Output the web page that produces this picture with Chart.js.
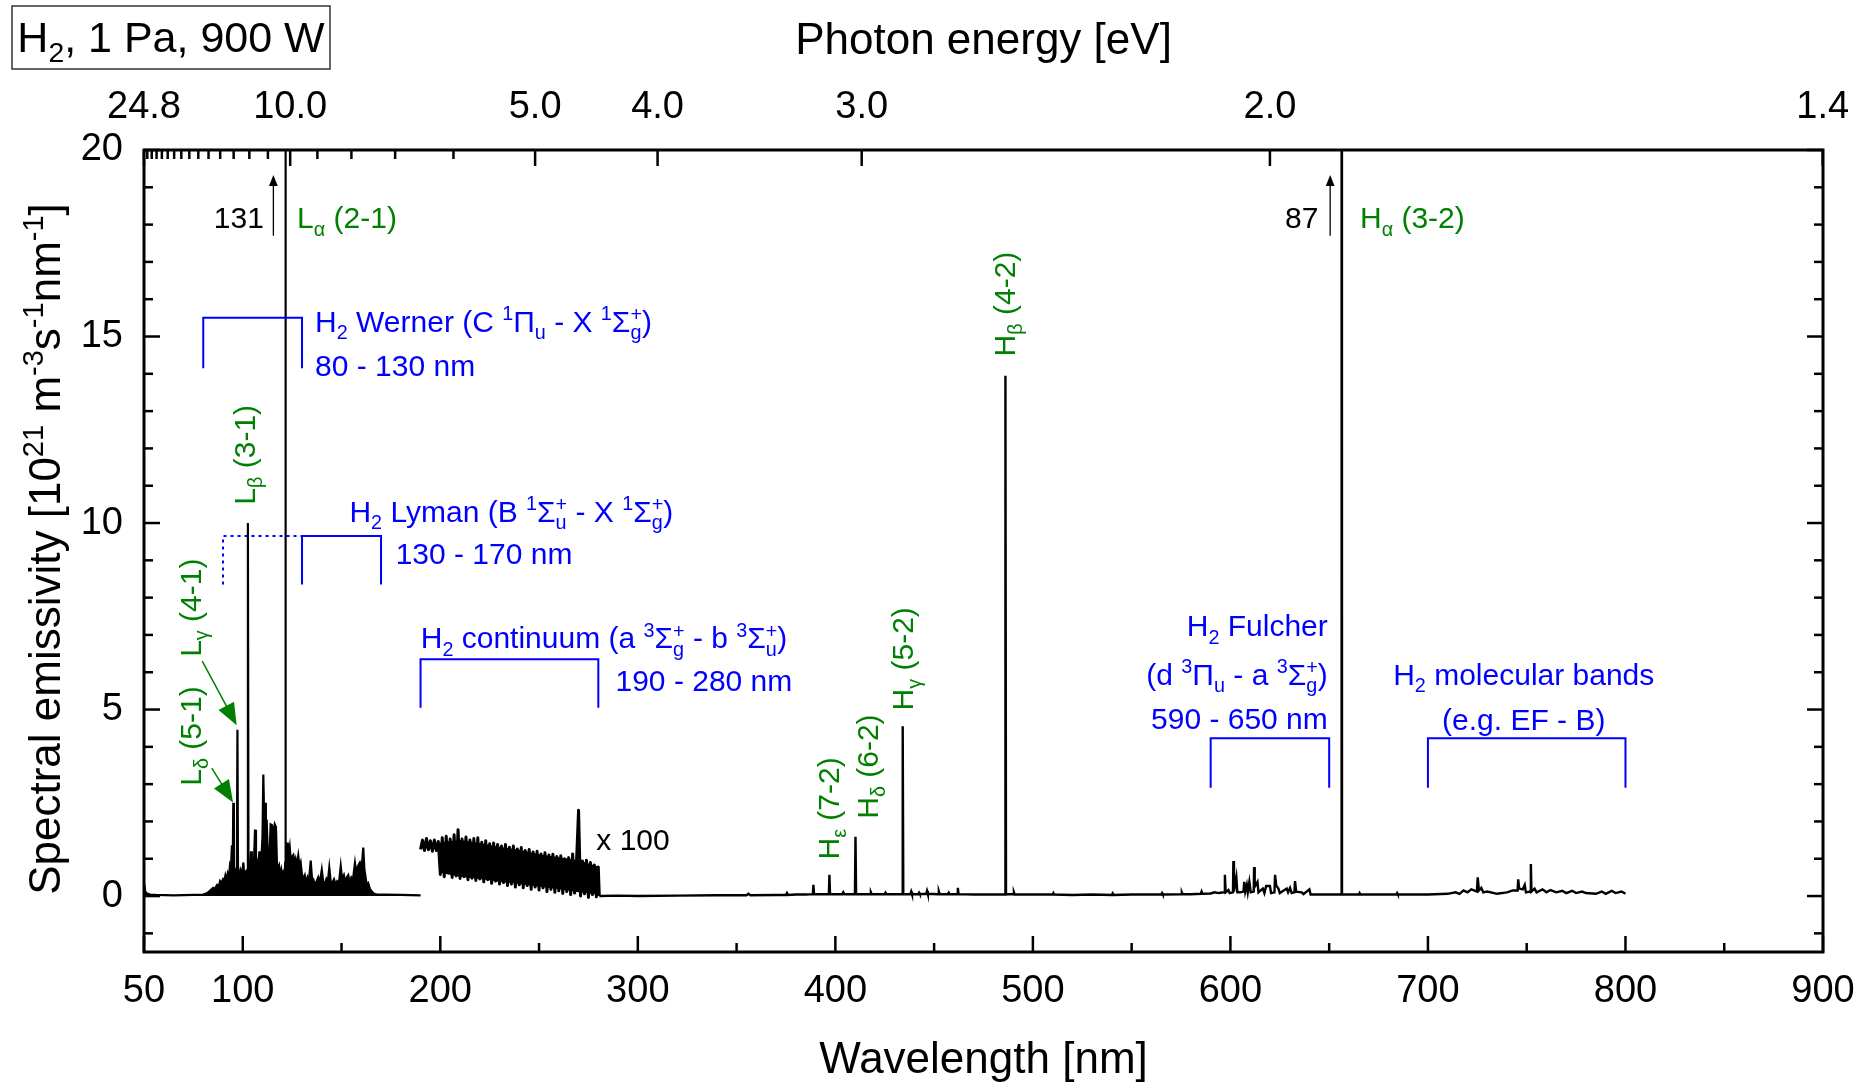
<!DOCTYPE html>
<html>
<head>
<meta charset="utf-8">
<script src="https://cdn.jsdelivr.net/npm/chart.js@4.4.0/dist/chart.umd.min.js"></script>
<style>
  html, body { margin: 0; background: #fff; }
  #wrap { width: 1862px; height: 1088px; }
</style>
</head>
<body>
<div id="wrap"><canvas id="spec" width="1862" height="1088"></canvas></div>
<script>
// ---- data (wavelength in nm, emissivity in 1e21 m^-3 s^-1 nm^-1) ----
var wlTicks = [50, 100, 200, 300, 400, 500, 600, 700, 800, 900];
var wlMinor = [150, 250, 350, 450, 550, 650, 750, 850];
var yTicks = [0, 5, 10, 15, 20];
var yMinor = [-1, 1, 2, 3, 4, 6, 7, 8, 9, 11, 12, 13, 14, 16, 17, 18, 19];
var evTicks = [24.8, 10, 5, 4, 3, 2, 1.378];
var evMinor = [24, 23, 22, 21, 20, 19, 18, 17, 16, 15, 14, 13, 12, 11, 9, 8, 7, 6];

// VUV part 50 - 190 nm
var vuvSpec = [
  [50, 0], [50.2, 0.3], [50.6, 0.12], [51.5, 0.07], [53, 0.04], [56, 0.03], [65, 0.02], [75, 0.03],
  [80, 0.04], [82, 0.08], [83.5, 0.15], [85, 0.22], [86, 0.2], [87, 0.3], [88, 0.28], [88.5, 0.4],
  [89.2, 0.35], [90, 0.45], [90.6, 0.4], [91.2, 0.55], [91.8, 0.42], [92.4, 0.6], [93, 0.5], [93.5, 0.8],
  [94, 0.7], [94.5, 1.36], [94.9, 0.7], [95.2, 2.5], [95.5, 0.65], [96, 0.7], [96.5, 0.6], [97, 0.7],
  [97.3, 4.46], [97.6, 0.65], [98.2, 0.55], [98.8, 0.7], [99.4, 0.6], [100, 0.75], [100.3, 0.9],
  [100.7, 0.6], [101.3, 0.65], [101.9, 0.6], [102.3, 0.7], [102.6, 10], [102.9, 0.7], [103.4, 0.8],
  [103.8, 0.65], [104.2, 1.2], [104.6, 0.7], [105.1, 0.9], [105.6, 0.8], [106.2, 1.78], [106.7, 0.75],
  [107.2, 0.9], [107.8, 0.7], [108.4, 1.2], [108.9, 0.8], [109.5, 1.1], [110, 1.6], [110.4, 3.26],
  [110.8, 2.2], [111.3, 2.5], [111.7, 1.9], [112.1, 2.05], [112.5, 1.4], [113, 0.8], [113.5, 1.0],
  [114.1, 1.92], [114.8, 1.9], [115.5, 1.6], [116.2, 1.92], [116.8, 1.85], [117.3, 0.9], [117.8, 0.7],
  [118.4, 0.8], [118.9, 0.55], [119.5, 0.7], [120, 0.5], [120.6, 0.65], [121.2, 0.6], [121.5, 0.9],
  [121.6, 131], [121.8, 0.9], [122.3, 1.2], [122.8, 1.43], [123.3, 1.1], [123.8, 1.3], [124.3, 0.95],
  [124.9, 1.05], [125.6, 1.1], [126.1, 0.9], [126.7, 1.0], [127.3, 0.8], [128.1, 1.08], [128.7, 0.8],
  [129.3, 0.9], [129.9, 0.6], [130.7, 0.45], [131.4, 0.55], [132, 0.35], [132.8, 0.5], [133.5, 0.4],
  [134.4, 0.95], [135, 0.5], [135.7, 0.45], [136.5, 0.3], [137.4, 0.4], [138.2, 0.5], [139, 0.35],
  [140, 0.7], [140.7, 0.4], [141.5, 0.3], [142.3, 0.45], [143, 0.35], [143.8, 0.76], [144.5, 0.4],
  [145.3, 0.35], [146.2, 0.45], [147, 0.3], [147.8, 0.4], [148.7, 0.35], [149.6, 0.8], [150.3, 0.45],
  [151.2, 0.56], [152, 0.35], [152.7, 0.5], [153.4, 0.56], [154.2, 0.35], [155, 0.5], [155.8, 0.45],
  [156.8, 0.88], [157.5, 0.6], [158.3, 0.8], [159.3, 0.9], [160.2, 0.75], [161, 1.3], [161.6, 0.7],
  [162.2, 0.5], [162.7, 0.3], [163.5, 0.35], [164.3, 0.2], [165.3, 0.12], [166.5, 0.06], [168, 0.04],
  [172, 0.04], [180, 0.03], [190, 0.02]
];

// H2 continuum x 100, 190 - 280 nm (noisy trace, 1 nm steps)
var contX = [190, 191, 192, 193, 194, 195, 196, 197, 198, 199, 200, 201, 202, 203, 204, 205, 206, 207, 208,
  209, 210, 211, 212, 213, 214, 215, 216, 217, 218, 219, 220, 221, 222, 223, 224, 225, 226, 227, 228, 229,
  230, 231, 232, 233, 234, 235, 236, 237, 238, 239, 240, 241, 242, 243, 244, 245, 246, 247, 248, 249, 250,
  251, 252, 253, 254, 255, 256, 257, 258, 259, 260, 261, 262, 263, 264, 265, 266, 267, 268, 269, 270, 271,
  272, 273, 274, 275, 276, 277, 278, 279, 280, 280.5];
var contY = [1.25, 1.5, 1.22, 1.54, 1.24, 1.48, 1.2, 1.5, 1.22, 1.46, 0.58, 1.56, 0.52, 1.6, 0.62, 1.53, 0.5,
  1.64, 0.54, 1.78, 0.47, 1.53, 0.52, 1.58, 0.44, 1.5, 0.48, 1.54, 0.42, 1.56, 0.46, 1.44, 0.38, 1.48, 0.44,
  1.4, 0.34, 1.42, 0.4, 1.38, 0.32, 1.34, 0.36, 1.38, 0.28, 1.31, 0.32, 1.34, 0.24, 1.26, 0.3, 1.3, 0.22,
  1.22, 0.28, 1.25, 0.18, 1.18, 0.24, 1.2, 0.16, 1.13, 0.22, 1.16, 0.12, 1.1, 0.18, 1.12, 0.1, 1.06, 0.14,
  1.08, 0.07, 1.0, 0.12, 1.03, 0.04, 1.13, 0.08, 0.98, 2.3, 0.0, 0.94, 0.06, 0.96, -0.04, 0.9, 0.04,
  0.83, -0.02, 0.78, 0.0];
// solid core of the noise band
var bandX = [190.5, 199.5, 200.5, 210, 220, 230, 240, 250, 260, 270, 279.5];
var bandHi = [1.42, 1.42, 1.45, 1.5, 1.42, 1.32, 1.24, 1.12, 1.04, 0.96, 0.8];
var bandLo = [1.28, 1.28, 0.62, 0.52, 0.46, 0.38, 0.32, 0.25, 0.18, 0.1, 0.04];

// visible part 280 - 800 nm
var visSpec = [
  [280.5, 0.0], [290, 0.01], [300, 0.0], [320, 0.01], [340, 0.02], [355, 0.02], [356, 0.06], [357, 0.02],
  [370, 0.03], [375, 0.03], [375.5, 0.08], [376, 0.03], [380, 0.04], [385, 0.04], [388.6, 0.05],
  [388.9, 0.3], [389.2, 0.05], [392, 0.05], [396.7, 0.05], [397, 0.57], [397.3, 0.05], [400, 0.05],
  [403.5, 0.05], [404, 0.1], [404.5, 0.05], [409.9, 0.05], [410.2, 1.59], [410.5, 0.05], [414, 0.05],
  [417.6, 0.05], [418, 0.1], [418.4, 0.05], [425, 0.05], [425.4, 0.09], [425.8, 0.05], [433.8, 0.05],
  [434.1, 4.55], [434.4, 0.05], [438, 0.05], [438.4, 0.12], [438.8, 0.05], [442, 0.05], [442.4, 0.09],
  [442.8, 0.05], [446, 0.06], [446.4, 0.14], [446.8, 0.06], [452, 0.05], [452.4, 0.12], [452.8, 0.05],
  [457, 0.05], [457.4, 0.09], [457.8, 0.05], [461.6, 0.05], [462, 0.22], [462.4, 0.05], [470, 0.04],
  [476, 0.04], [480, 0.04], [485.9, 0.04], [486.1, 13.95], [486.4, 0.05], [490, 0.05], [490.4, 0.1],
  [490.8, 0.04], [500, 0.04], [510, 0.04], [510.4, 0.08], [510.8, 0.04], [520, 0.03], [530, 0.04],
  [540, 0.03], [540.4, 0.07], [540.8, 0.03], [550, 0.04], [560, 0.04], [565, 0.04], [565.4, 0.08],
  [565.8, 0.04], [575, 0.05], [575.4, 0.1], [575.8, 0.05], [580, 0.05], [585, 0.06], [585.4, 0.12],
  [585.8, 0.06], [590, 0.07], [592, 0.1], [594, 0.08], [596.8, 0.1], [597.2, 0.57], [597.6, 0.1],
  [599, 0.16], [599.6, 0.08], [601.3, 0.1], [601.5, 0.94], [601.8, 0.12], [603, 0.5], [603.5, 0.1],
  [605, 0.1], [606.6, 0.12], [607, 0.38], [607.5, 0.12], [608.3, 0.3], [608.8, 0.1], [609.6, 0.38],
  [610.3, 0.1], [611.8, 0.12], [612, 0.78], [612.3, 0.25], [613.7, 0.38], [614.2, 0.1], [616.4, 0.2],
  [617.2, 0.08], [618.1, 0.27], [619, 0.27], [620, 0.27], [620.6, 0.08], [622.3, 0.1], [622.6, 0.57],
  [623.2, 0.28], [624.3, 0.2], [625, 0.08], [628.5, 0.2], [629.2, 0.1], [630.2, 0.22], [631, 0.08],
  [632.4, 0.1], [632.7, 0.4], [633.3, 0.12], [636.1, 0.1], [637, 0.05], [640, 0.18], [640.6, 0.04],
  [645, 0.04], [650, 0.04], [656.1, 0.04], [656.3, 87], [656.5, 0.04], [660, 0.04], [665, 0.04],
  [665.4, 0.08], [665.8, 0.04], [680, 0.04], [684, 0.04], [684.4, 0.08], [684.8, 0.04], [700, 0.04],
  [710, 0.06], [714, 0.1], [716, 0.06], [718, 0.15], [720, 0.1], [722, 0.18], [724.8, 0.12],
  [725.2, 0.5], [725.8, 0.15], [727, 0.22], [728, 0.1], [730, 0.12], [735, 0.06], [740, 0.1],
  [743, 0.15], [745.4, 0.15], [745.7, 0.45], [746.2, 0.2], [748, 0.18], [749, 0.3], [749.6, 0.1],
  [751.8, 0.12], [752.1, 0.86], [752.4, 0.12], [754, 0.2], [755, 0.1], [758, 0.18], [760, 0.1],
  [762, 0.16], [765, 0.1], [768, 0.14], [770, 0.08], [773, 0.14], [775, 0.08], [778, 0.12], [780, 0.08],
  [785, 0.06], [788, 0.12], [790, 0.06], [793, 0.14], [795, 0.08], [798, 0.12], [800, 0.06]
];

var FONT = '"Liberation Sans", Arial, sans-serif';
var BLUE = '#0000ff';
var GREEN = '#008000';

function toXY(arr) { return arr.map(function (p) { return { x: p[0], y: p[1] }; }); }
function zipXY(xs, ys) { return xs.map(function (x, i) { return { x: x, y: ys[i] }; }); }

// ---- rich text: H_{2}, ^{1}Σ_{g}^{+} ----
function parseRich(s) {
  var out = [], buf = '', i = 0;
  while (i < s.length) {
    var c = s[i];
    if ((c === '_' || c === '^') && s[i + 1] === '{') {
      var j = s.indexOf('}', i);
      var txt = s.slice(i + 2, j);
      var prev = out[out.length - 1];
      if (!buf && prev && prev.m === 'b' && c === '^' && prev.just) {
        prev.sup = txt;
      } else {
        if (buf) { out.push({ t: buf, m: '' }); buf = ''; }
        out.push({ t: txt, m: c === '_' ? 'b' : 'p', just: true });
      }
      i = j + 1;
      continue;
    }
    if (out.length) out[out.length - 1].just = false;
    buf += c;
    i++;
  }
  if (buf) out.push({ t: buf, m: '' });
  return out;
}

function richDraw(ctx, s, x, y, size, color, align) {
  var parts = parseRich(s);
  var small = size * 0.66;
  var w = 0;
  parts.forEach(function (p) {
    ctx.font = (p.m ? small : size) + 'px ' + FONT;
    var pw = ctx.measureText(p.t).width;
    if (p.sup) pw = Math.max(pw, ctx.measureText(p.sup).width);
    p.w = pw;
    w += pw;
  });
  var cx = align === 'center' ? x - w / 2 : (align === 'right' ? x - w : x);
  ctx.fillStyle = color;
  ctx.textBaseline = 'alphabetic';
  ctx.textAlign = 'left';
  parts.forEach(function (p) {
    ctx.font = (p.m ? small : size) + 'px ' + FONT;
    if (p.m === '') ctx.fillText(p.t, cx, y);
    else if (p.m === 'b') {
      ctx.fillText(p.t, cx, y + size * 0.24);
      if (p.sup) ctx.fillText(p.sup, cx, y - size * 0.36);
    } else ctx.fillText(p.t, cx, y - size * 0.38);
    cx += p.w;
  });
  return w;
}

// ---- decorations: frame, inward ticks, annotations ----
var decorPlugin = {
  id: 'decor',
  afterDraw: function (chart) {
    var ctx = chart.ctx;
    var ca = chart.chartArea;
    var xs = chart.scales.x, ys = chart.scales.y;
    function X(v) { return xs.getPixelForValue(v); }
    function Y(v) { return ys.getPixelForValue(v); }
    function seg(x1, y1, x2, y2) { ctx.beginPath(); ctx.moveTo(x1, y1); ctx.lineTo(x2, y2); ctx.stroke(); }

    ctx.save();
    ctx.strokeStyle = '#000';
    ctx.lineWidth = 2.5;
    var MAJ = 16, MIN = 9;
    wlTicks.forEach(function (v) { seg(X(v), ca.bottom, X(v), ca.bottom - MAJ); });
    wlMinor.forEach(function (v) { seg(X(v), ca.bottom, X(v), ca.bottom - MIN); });
    evTicks.forEach(function (e) { var p = X(1240 / e); seg(p, ca.top, p, ca.top + MAJ); });
    evMinor.forEach(function (e) { var p = X(1240 / e); seg(p, ca.top, p, ca.top + MIN); });
    yTicks.forEach(function (v) {
      seg(ca.left, Y(v), ca.left + MAJ, Y(v));
      seg(ca.right, Y(v), ca.right - MAJ, Y(v));
    });
    yMinor.forEach(function (v) {
      seg(ca.left, Y(v), ca.left + MIN, Y(v));
      seg(ca.right, Y(v), ca.right - MIN, Y(v));
    });
    ctx.lineWidth = 3;
    ctx.strokeRect(ca.left, ca.top, ca.right - ca.left, ca.bottom - ca.top);

    // brackets
    function bracket(a, b, top, bot) {
      ctx.beginPath();
      ctx.moveTo(X(a), Y(bot)); ctx.lineTo(X(a), Y(top)); ctx.lineTo(X(b), Y(top)); ctx.lineTo(X(b), Y(bot));
      ctx.stroke();
    }
    ctx.strokeStyle = BLUE;
    ctx.lineWidth = 2;
    bracket(80, 130, 15.5, 14.15);
    bracket(130, 170, 9.65, 8.35);
    bracket(190, 280, 6.35, 5.05);
    bracket(590, 650, 4.23, 2.9);
    bracket(700, 800, 4.23, 2.9);
    ctx.setLineDash([3, 4]);
    ctx.beginPath();
    ctx.moveTo(X(90), Y(8.35)); ctx.lineTo(X(90), Y(9.65)); ctx.lineTo(X(130), Y(9.65));
    ctx.stroke();
    ctx.setLineDash([]);

    // arrows
    function arrow(x1, y1, x2, y2, color, lw, head) {
      var a = X(x1), b = Y(y1), c = X(x2), d = Y(y2);
      var ang = Math.atan2(d - b, c - a);
      ctx.strokeStyle = color; ctx.fillStyle = color; ctx.lineWidth = lw;
      seg(a, b, c - Math.cos(ang) * head * 0.8, d - Math.sin(ang) * head * 0.8);
      ctx.beginPath();
      ctx.moveTo(c, d);
      ctx.lineTo(c - head * Math.cos(ang) + head * 0.4 * Math.sin(ang), d - head * Math.sin(ang) - head * 0.4 * Math.cos(ang));
      ctx.lineTo(c - head * Math.cos(ang) - head * 0.4 * Math.sin(ang), d - head * Math.sin(ang) + head * 0.4 * Math.cos(ang));
      ctx.closePath();
      ctx.fill();
    }
    arrow(115.5, 17.7, 115.5, 19.33, '#000', 1.3, 11);
    arrow(650.5, 17.7, 650.5, 19.33, '#000', 1.3, 11);
    arrow(79.5, 6.3, 96.9, 4.58, GREEN, 1.5, 22);
    arrow(84.3, 3.43, 95.1, 2.51, GREEN, 1.5, 22);

    // horizontal texts (value = vertical centre of the line)
    var S = 30;
    function txt(s, x, y, color, align) { richDraw(ctx, s, X(x), Y(y) + S * 0.36, S, color, align); }
    txt('131', 110.7, 18.19, '#000', 'right');
    txt('87', 644.5, 18.19, '#000', 'right');
    txt('L_{α} (2-1)', 127.5, 18.19, GREEN, 'left');
    txt('H_{α} (3-2)', 665.6, 18.19, GREEN, 'left');
    txt('H_{2} Werner (C ^{1}Π_{u} - X ^{1}Σ_{g}^{+})', 136.6, 15.42, BLUE, 'left');
    txt('80 - 130 nm', 136.6, 14.24, BLUE, 'left');
    txt('H_{2} Lyman (B ^{1}Σ_{u}^{+} - X ^{1}Σ_{g}^{+})', 154, 10.33, BLUE, 'left');
    txt('130 - 170 nm', 177.4, 9.19, BLUE, 'left');
    txt('H_{2} continuum (a ^{3}Σ_{g}^{+} - b ^{3}Σ_{u}^{+})', 190.1, 6.93, BLUE, 'left');
    txt('190 - 280 nm', 288.7, 5.79, BLUE, 'left');
    txt('x 100', 279, 1.53, '#000', 'left');
    txt('H_{2} Fulcher', 649.3, 7.25, BLUE, 'right');
    txt('(d ^{3}Π_{u} - a ^{3}Σ_{g}^{+})', 649.3, 5.95, BLUE, 'right');
    txt('590 - 650 nm', 649.3, 4.77, BLUE, 'right');
    txt('H_{2} molecular bands', 748.5, 5.95, BLUE, 'center');
    txt('(e.g. EF - B)', 748.5, 4.74, BLUE, 'center');

    // vertical green labels
    function vtxt(s, x, y) {
      ctx.save();
      ctx.translate(X(x), Y(y));
      ctx.rotate(-Math.PI / 2);
      richDraw(ctx, s, 0, S * 0.36, S, GREEN, 'center');
      ctx.restore();
    }
    vtxt('L_{β} (3-1)', 100.5, 11.83);
    vtxt('L_{γ} (4-1)', 73.4, 7.73);
    vtxt('L_{δ} (5-1)', 73.4, 4.29);
    vtxt('H_{β} (4-2)', 485.5, 15.87);
    vtxt('H_{γ} (5-2)', 434, 6.36);
    vtxt('H_{δ} (6-2)', 416, 3.47);
    vtxt('H_{ε} (7-2)', 396.5, 2.35);

    // y axis title with exponents
    ctx.save();
    ctx.translate(44, (ca.top + ca.bottom) / 2 - 2);
    ctx.rotate(-Math.PI / 2);
    richDraw(ctx, 'Spectral emissivity [10^{21} m^{-3}s^{-1}nm^{-1}]', 0, 44 * 0.36, 44, '#000', 'center');
    ctx.restore();

    // condition box
    ctx.strokeStyle = '#333';
    ctx.lineWidth = 1.5;
    ctx.strokeRect(12, 6, 318, 63);
    richDraw(ctx, 'H_{2}, 1 Pa, 900 W', 171, 52, 43, '#000', 'center');
    ctx.restore();
  }
};

var tickFont = { family: FONT, size: 38 };
var titleFont = { family: FONT, size: 44 };

function noEdgePadding(s) { s.paddingLeft = 0; s.paddingRight = 0; }

new Chart(document.getElementById('spec'), {
  type: 'line',
  data: {
    datasets: [
      { data: toXY(vuvSpec), borderColor: '#000', backgroundColor: '#000', borderWidth: 2.2, fill: 'origin' },
      { data: zipXY(bandX, bandLo), borderWidth: 0, borderColor: 'rgba(0,0,0,0)', fill: false },
      { data: zipXY(bandX, bandHi), borderWidth: 0, borderColor: 'rgba(0,0,0,0)', backgroundColor: '#000', fill: 1 },
      { data: zipXY(contX, contY), borderColor: '#000', borderWidth: 3, borderJoinStyle: 'round', fill: false },
      { data: toXY(visSpec), borderColor: '#000', borderWidth: 2.4, fill: false }
    ]
  },
  options: {
    responsive: false,
    animation: false,
    elements: { point: { radius: 0 }, line: { tension: 0 } },
    layout: { padding: { right: 39, left: 0, top: 0, bottom: 0 } },
    plugins: { legend: { display: false }, tooltip: { enabled: false } },
    scales: {
      x: {
        type: 'linear', position: 'bottom', min: 50, max: 900,
        afterBuildTicks: function (s) { s.ticks = wlTicks.map(function (v) { return { value: v }; }); },
        afterFit: function (s) { s.height = 136; noEdgePadding(s); },
        grid: { display: false, drawTicks: false },
        border: { display: false },
        ticks: { font: tickFont, color: '#000', padding: 17, maxRotation: 0, autoSkip: false },
        title: { display: true, text: 'Wavelength [nm]', font: titleFont, color: '#000', padding: { top: 0, bottom: 1 } }
      },
      xTop: {
        type: 'linear', position: 'top', min: 50, max: 900,
        afterBuildTicks: function (s) { s.ticks = evTicks.map(function (e) { return { value: 1240 / e }; }); },
        afterFit: function (s) { s.height = 150; noEdgePadding(s); },
        grid: { display: false, drawTicks: false },
        border: { display: false },
        ticks: {
          font: tickFont, color: '#000', padding: 20, maxRotation: 0, autoSkip: false,
          callback: function (v) { return (1240 / v).toFixed(1); }
        },
        title: { display: true, text: 'Photon energy [eV]', font: titleFont, color: '#000', padding: { top: 15, bottom: 0 } }
      },
      y: {
        type: 'linear', position: 'left', min: -1.5, max: 20,
        afterBuildTicks: function (s) { s.ticks = yTicks.map(function (v) { return { value: v }; }); },
        afterFit: function (s) { s.width = 144; },
        grid: { display: false, drawTicks: false },
        border: { display: false },
        ticks: { font: tickFont, color: '#000', padding: 21 }
      }
    }
  },
  plugins: [decorPlugin]
});
</script>
</body>
</html>
